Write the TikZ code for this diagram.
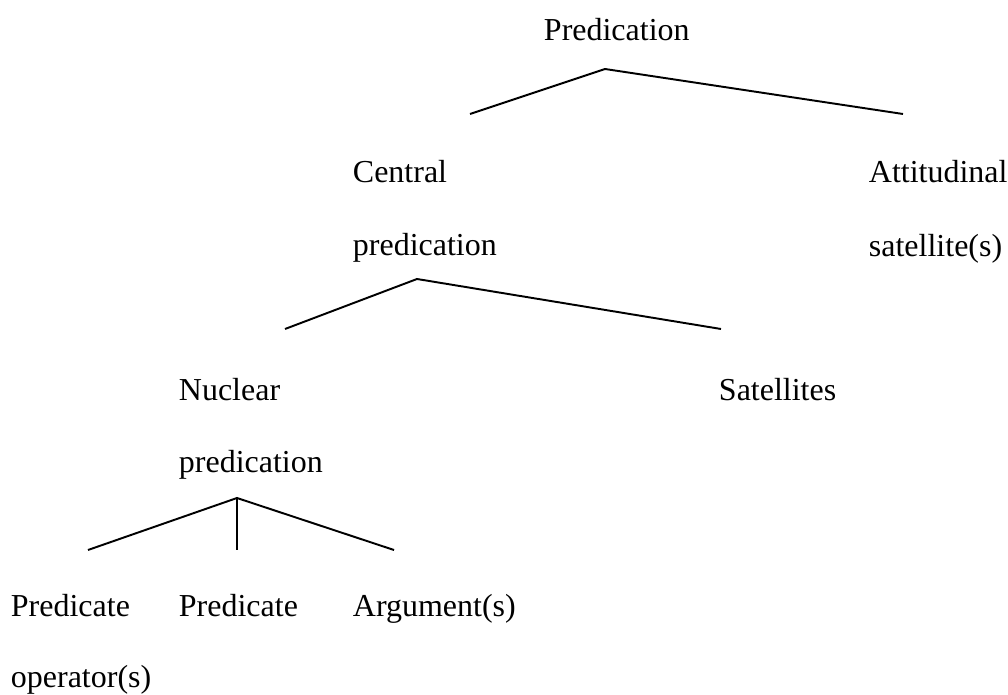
\documentclass[tikz,border=0pt]{standalone}
\usepackage{fontspec}
\setmainfont{Liberation Serif}
\usepackage{tikz}

\begin{document}
\begin{tikzpicture}[x=0.02cm,y=-0.02cm,
    lbl/.style={anchor=base west,inner sep=0pt,font=\fontsize{18.2}{22}\selectfont},
    every path/.style={line width=1.1pt}]
    \useasboundingbox (0,0) rectangle (1008,695);
    \node[lbl] (pred) at (543,41) {Predication};
    \node[lbl] (cent) at (352,183) {Central};
    \node[lbl] (centp) at (352,256) {predication};
    \node[lbl] (att) at (868,183) {Attitudinal};
    \node[lbl] (atts) at (868,257) {satellite(s)};
    \node[lbl] (nuc) at (178,401) {Nuclear};
    \node[lbl] (nucp) at (178,473) {predication};
    \node[lbl] (sat) at (718,401) {Satellites};
    \node[lbl] (op) at (10,617) {Predicate};
    \node[lbl] (ops) at (10,688) {operator(s)};
    \node[lbl] (prd) at (178,617) {Predicate};
    \node[lbl] (arg) at (352,617) {Argument(s)};
    \coordinate (t1) at (605,69);
    \coordinate (l1) at (470,114);
    \coordinate (r1) at (903,114);
    \coordinate (t2) at (417,279);
    \coordinate (l2) at (285,329);
    \coordinate (r2) at (721,329);
    \coordinate (t3) at (237,498);
    \coordinate (l3) at (88,550);
    \coordinate (m3) at (237,550);
    \coordinate (r3) at (394,550);
    \draw (l1) -- (t1) -- (r1);
    \draw (l2) -- (t2) -- (r2);
    \draw (l3) -- (t3) -- (r3);
    \draw (t3) -- (m3);
  \end{tikzpicture}
\end{document}
